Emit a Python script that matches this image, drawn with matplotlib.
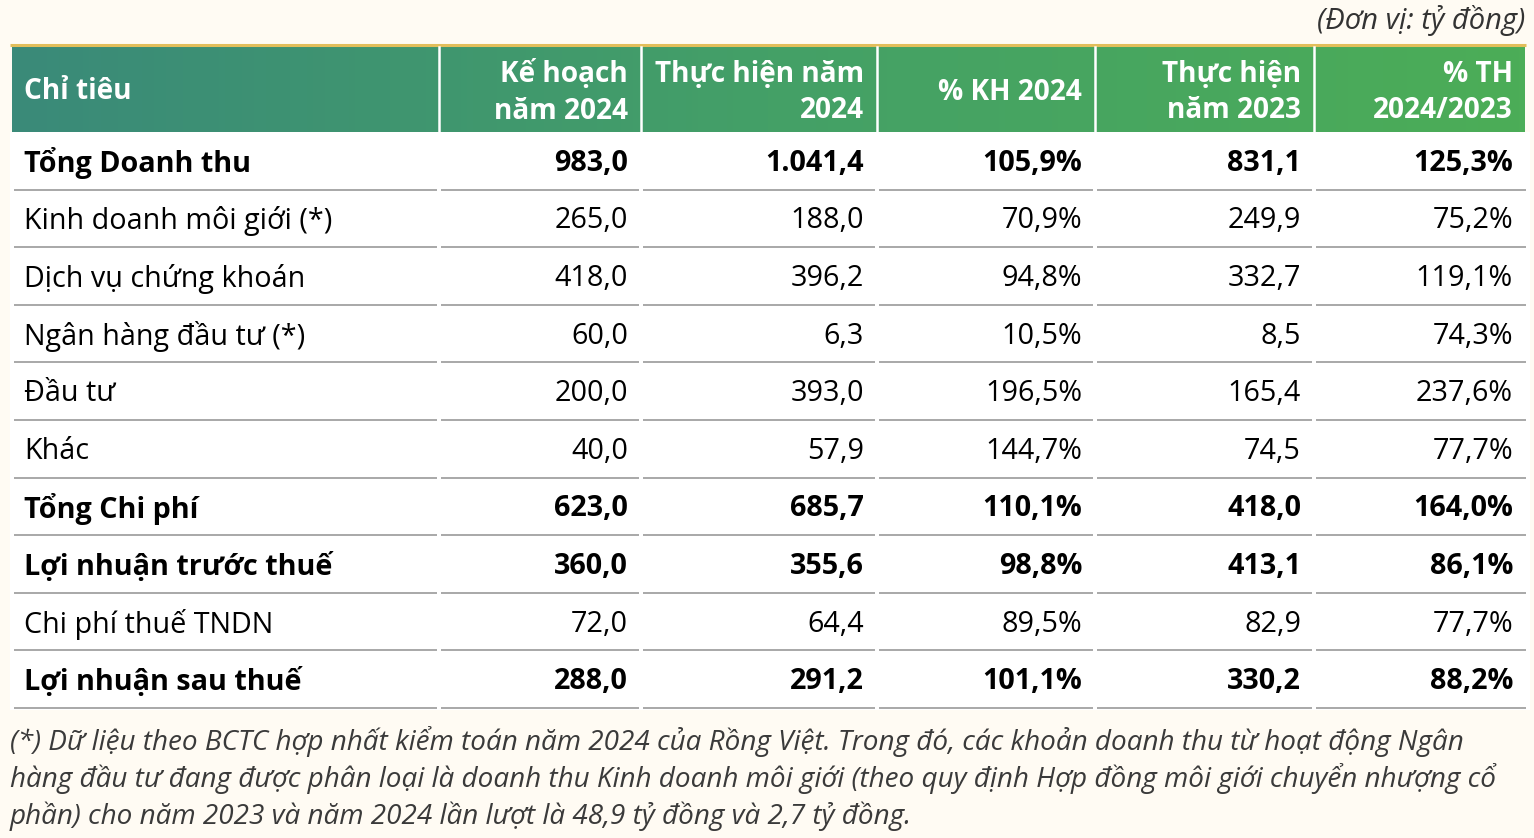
import matplotlib
matplotlib.use("Agg")
import matplotlib.pyplot as plt
import numpy as np
from matplotlib.colors import LinearSegmentedColormap

# ---------------- data ----------------
categories = ["Tổng Doanh thu", "Kinh doanh môi giới (*)", "Dịch vụ chứng khoán",
              "Ngân hàng đầu tư (*)", "Đầu tư", "Khác", "Tổng Chi phí",
              "Lợi nhuận trước thuế", "Chi phí thuế TNDN", "Lợi nhuận sau thuế"]
plan_2024 = [983.0, 265.0, 418.0, 60.0, 200.0, 40.0, 623.0, 360.0, 72.0, 288.0]
actual_2024 = [1041.4, 188.0, 396.2, 6.3, 393.0, 57.9, 685.7, 355.6, 64.4, 291.2]
pct_plan = [105.9, 70.9, 94.8, 10.5, 196.5, 144.7, 110.1, 98.8, 89.5, 101.1]
actual_2023 = [831.1, 249.9, 332.7, 8.5, 165.4, 74.5, 418.0, 413.1, 82.9, 330.2]
pct_yoy = [125.3, 75.2, 119.1, 74.3, 237.6, 77.7, 164.0, 86.1, 77.7, 88.2]
bold_rows = [True, False, False, False, False, False, True, True, False, True]
headers = ["Chỉ tiêu", "Kế hoạch\nnăm 2024", "Thực hiện năm\n2024", "% KH 2024",
           "Thực hiện\nnăm 2023", "% TH\n2024/2023"]
unit_label = "(Đơn vị: tỷ đồng)"
footnote_lines = [
    "(*) Dữ liệu theo BCTC hợp nhất kiểm toán năm 2024 của Rồng Việt. Trong đó, các khoản doanh thu từ hoạt động Ngân",
    "hàng đầu tư đang được phân loại là doanh thu Kinh doanh môi giới (theo quy định Hợp đồng môi giới chuyển nhượng cổ",
    "phần) cho năm 2023 và năm 2024 lần lượt là 48,9 tỷ đồng và 2,7 tỷ đồng.",
]


def fmt_num(v):
    s = f"{v:,.1f}"
    return s.replace(",", "X").replace(".", ",").replace("X", ".")


def fmt_pct(v):
    return fmt_num(v) + "%"


FONT = ["Open Sans", "DejaVu Sans"]
FS = 20.7
FS_HDR = 20.2
W, H = 1534, 838
fig = plt.figure(figsize=(W / 100, H / 100), dpi=100)
fig.patch.set_facecolor("#FFFBF3")
ax = fig.add_axes([0, 0, 1, 1])
ax.set_xlim(0, W)
ax.set_ylim(H, 0)
ax.axis("off")

# layout (pixels)
x_left, x_right = 12, 1528
col_bounds = [x_left, 439, 641, 877, 1095, 1314, x_right]
right_x = [None, 628, 864, 1082, 1301, 1513]
hdr_top, hdr_bot = 47, 132
row_h = 57.6
n = len(categories)
body_bot = hdr_bot + row_h * n

# body white
ax.add_patch(plt.Rectangle((x_left - 2, hdr_bot), x_right - x_left + 4, body_bot - hdr_bot + 2,
                           facecolor="white", edgecolor="none", zorder=1))

# header gradient
cmap = LinearSegmentedColormap.from_list("hdr", ["#3A8A79", "#44A067", "#4CAD57"])
grad = np.linspace(0, 1, 256).reshape(1, -1)
ax.imshow(grad, cmap=cmap, extent=(x_left, x_right - 3, hdr_bot, hdr_top), aspect="auto", zorder=2)
ax.plot([10, x_right - 2], [hdr_top - 1.5, hdr_top - 1.5], color="#E2BE5A", lw=2.2, zorder=3,
        solid_capstyle="butt")
for xb in col_bounds[1:-1]:
    ax.plot([xb, xb], [hdr_top, hdr_bot], color="white", lw=1.8, zorder=3)

# header text
hc = (hdr_top + hdr_bot) / 2 + 2
ax.text(24, hc, headers[0], color="white", fontsize=FS_HDR, fontweight="bold",
        family=FONT, ha="left", va="center", zorder=4)
for j in range(1, 6):
    ax.text(right_x[j], hc + 1, headers[j], color="white", fontsize=FS_HDR,
            fontweight="bold", family=FONT, ha="right", va="center", linespacing=1.35,
            multialignment="right", zorder=4)

# rows
cols = [plan_2024, actual_2024, pct_plan, actual_2023, pct_yoy]
fmts = [fmt_num, fmt_num, fmt_pct, fmt_num, fmt_pct]
for i in range(n):
    yc = hdr_bot + row_h * (i + 0.5) + 2.5
    w = "bold" if bold_rows[i] else "normal"
    ax.text(24, yc, categories[i], fontsize=FS, fontweight=w, family=FONT,
            ha="left", va="center", color="black", zorder=4)
    for j in range(5):
        ax.text(right_x[j + 1], yc, fmts[j](cols[j][i]), fontsize=FS, fontweight=w, family=FONT,
                ha="right", va="center", color="black", zorder=4)
    ysep = hdr_bot + row_h * (i + 1)
    for k in range(6):
        ax.plot([col_bounds[k] + 2, col_bounds[k + 1] - 2], [ysep, ysep], color="#9A9A9A",
                lw=1.2, zorder=3, solid_capstyle="butt")

# unit label
ax.text(1525, 21, unit_label, fontsize=21, style="italic", family=FONT, ha="right",
        va="center", color="#333333")

# footnote
for k, line in enumerate(footnote_lines):
    ax.text(10, 741 + k * 37.5, line, fontsize=20.1, style="italic", family=FONT, ha="left",
            va="center", color="#3A3A3A")

fig.savefig("out.png", dpi=100, facecolor=fig.get_facecolor())
